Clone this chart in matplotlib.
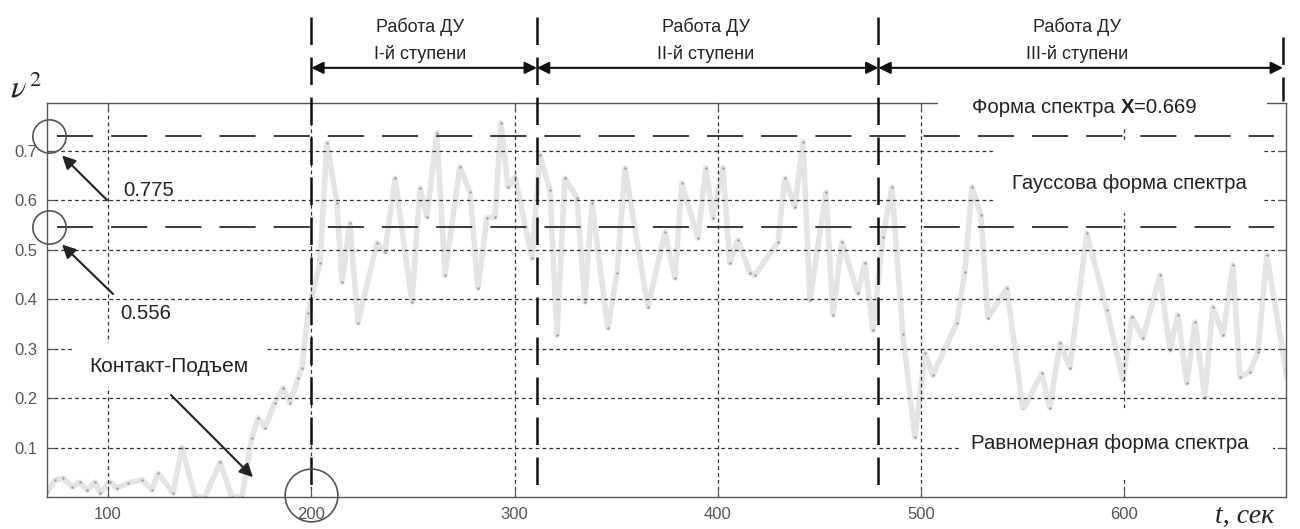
import matplotlib
matplotlib.use("Agg")
import matplotlib.pyplot as plt
from matplotlib.patches import Rectangle

plt.rcParams['font.family'] = ['Liberation Sans', 'DejaVu Sans']
plt.rcParams['mathtext.fontset'] = 'stix'

# время, сек
t = [70, 73.9, 77.9, 82.3, 86.2, 89.7, 93.6, 96.1, 101, 104.4, 109.8, 116.7,
     121.6, 124.6, 132, 136.4, 142.8, 147.7, 155.1, 161, 165.9, 170.8, 173.8,
     177.2, 182.1, 186.1, 189.5, 193.5, 195.4, 198.4, 204.3, 207.7, 212.6,
     215.1, 219.0, 223.0, 232.3, 236.3, 241.2, 249.5, 253.5, 256.9, 261.8,
     265.8, 273.1, 278.1, 282.0, 286.4, 290.4, 293.3, 296.8, 300.2, 308.6,
     312.5, 317.4, 320.9, 324.8, 330.7, 334.6, 338.1, 345.9, 350.4, 354.3,
     365.6, 374.0, 378.9, 382.3, 390.2, 394.1, 397.6, 402.5, 405.9, 409.9,
     415.8, 418.2, 429.6, 433.0, 437.9, 441.9, 445.3, 453.2, 456.6, 461.0,
     468.9, 472.4, 476.3, 481.2, 485.6, 491.0, 496.9, 501.9, 505.8, 517.6,
     521.5, 525.0, 529.4, 532.9, 542.2, 550.1, 559.4, 563.3, 568.3, 573.2,
     581.5, 591.4, 599.3, 603.7, 609.1, 617.5, 622.4, 626.3, 630.7, 634.7,
     639.6, 643.5, 648.5, 653.4, 656.8, 661.7, 665.7, 670.1, 680]
# v^2
v2 = [0.01, 0.034, 0.038, 0.02, 0.03, 0.014, 0.03, 0.008, 0.03, 0.018,
      0.028, 0.035, 0.014, 0.048, 0.008, 0.1, 0.0, 0.0, 0.07, 0.0, 0.0,
      0.12, 0.16, 0.14, 0.19, 0.22, 0.19, 0.24, 0.26, 0.372, 0.473, 0.715,
      0.594, 0.434, 0.553, 0.352, 0.513, 0.495, 0.644, 0.394, 0.624, 0.566,
      0.735, 0.448, 0.667, 0.616, 0.422, 0.564, 0.566, 0.756, 0.626, 0.646,
      0.483, 0.691, 0.62, 0.327, 0.644, 0.604, 0.394, 0.594, 0.341, 0.453,
      0.665, 0.384, 0.535, 0.442, 0.634, 0.523, 0.665, 0.564, 0.665, 0.473,
      0.519, 0.453, 0.448, 0.515, 0.644, 0.586, 0.717, 0.398, 0.616, 0.368,
      0.515, 0.412, 0.473, 0.337, 0.525, 0.626, 0.33, 0.121, 0.291, 0.246,
      0.352, 0.455, 0.626, 0.57, 0.362, 0.422, 0.176, 0.25, 0.18, 0.311,
      0.261, 0.533, 0.378, 0.236, 0.364, 0.321, 0.448, 0.297, 0.368, 0.23,
      0.354, 0.202, 0.384, 0.327, 0.469, 0.242, 0.253, 0.293, 0.489, 0.242]

x_ticks = [100, 200, 300, 400, 500, 600]
y_ticks = [0.1, 0.2, 0.3, 0.4, 0.5, 0.6, 0.7]
levels = [0.73, 0.545]          # пунктирные уровни
level_labels = ['0.775', '0.556']
stage_bounds = [200, 311, 479, 678]
stage_names = ['I-й ступени', 'II-й ступени', 'III-й ступени']
stage_text_x = [253.5, 394.2, 576.6]

fig = plt.figure(figsize=(13, 5.29), dpi=100)
ax = fig.add_axes([47/1300, 32/529, 1239/1300, 394/529])

ax.plot(t, v2, color='#e4e4e4', lw=4, zorder=2)
ax.plot(t, v2, ls='none', marker='.', ms=1.5, color='#999999', zorder=2.1)

ax.set_xlim(70, 679.5)
ax.set_ylim(0, 0.796)
ax.set_xticks(x_ticks)
ax.set_yticks(y_ticks)
ax.set_yticklabels([str(v) for v in y_ticks])
ax.tick_params(direction='in', length=6, width=0.8, colors='#555555',
               labelsize=12, top=True, right=True, pad=7)
for s in ax.spines.values():
    s.set_color('#555555')
    s.set_linewidth(1)
ax.set_axisbelow(False)
ax.grid(True, color='#333333', lw=0.9, ls=(0, (3, 2.5)))

# белые плашки под подписями
white = [(508.3, 0.745, 161.8, 0.061), (535.3, 0.574, 132.3, 0.147),
         (519.1, 0.040, 153.9, 0.136), (82.3, 0.222, 94.9, 0.089)]
for x0, y0, w, h in white:
    ax.add_patch(Rectangle((x0, y0), w, h, facecolor='white', edgecolor='none',
                           zorder=3, clip_on=False))

for y in levels:
    ax.axhline(y, xmin=0.008, xmax=0.99, color='#2a2a2a', lw=1.3,
               ls=(0, (20, 10)), zorder=4)

for i, xb in enumerate(stage_bounds):
    y0 = 0 if i < 3 else 0.8
    y1 = 0.97 if i < 3 else 0.93
    ax.plot([xb, xb], [y1, y0], color='#111111', lw=1.8, ls=(0, (11, 5)),
            clip_on=False, zorder=4)

for i in range(3):
    ax.annotate('', xy=(stage_bounds[i], 0.867), xytext=(stage_bounds[i + 1], 0.867),
                arrowprops=dict(arrowstyle='<|-|>', color='#111111', lw=1.5,
                                mutation_scale=18, shrinkA=0, shrinkB=0),
                annotation_clip=False, zorder=5)
    ax.text(stage_text_x[i], 0.95, 'Работа ДУ', ha='center', va='center',
            fontsize=13, color='#222222', clip_on=False)
    ax.text(stage_text_x[i], 0.895, stage_names[i], ha='center', va='center',
            fontsize=13, color='#222222', clip_on=False)

# кружки
ax.plot([71, 71], levels, ls='none', marker='o', ms=24, mfc='none',
        mec='#555555', mew=1.2, clip_on=False, zorder=5)
ax.plot([200], [0.005], ls='none', marker='o', ms=38, mfc='none',
        mec='#555555', mew=1.2, clip_on=False, zorder=5)

arrow = dict(arrowstyle='-|>', color='#222222', lw=1.5, mutation_scale=20,
             shrinkA=0, shrinkB=0)
ax.annotate('', xy=(77.4, 0.69), xytext=(99.5, 0.6), arrowprops=arrow, zorder=5)
ax.annotate('', xy=(77.4, 0.51), xytext=(102.5, 0.41), arrowprops=arrow, zorder=5)
ax.annotate('', xy=(171.3, 0.04), xytext=(131, 0.206), arrowprops=arrow, zorder=5)

fs = 14.7
ax.text(107.4, 0.62, level_labels[0], ha='left', va='center', fontsize=fs,
        color='#222222', zorder=6)
ax.text(105.9, 0.37, level_labels[1], ha='left', va='center', fontsize=fs,
        color='#222222', zorder=6)
ax.text(130, 0.263, 'Контакт-Подъем', ha='center', va='center', fontsize=15,
        color='#222222', zorder=6)

t1 = ax.text(525, 0.786, 'Форма спектра ', ha='left', va='center',
             fontsize=fs, color='#222222', zorder=6, clip_on=False)
t2 = ax.annotate('X', xy=(1, 0), xycoords=t1, va='bottom', fontsize=fs,
                 fontweight='bold', color='#222222', zorder=6)
ax.annotate('=0.669', xy=(1, 0), xycoords=t2, va='bottom', fontsize=fs,
            color='#222222', zorder=6)
ax.text(602.7, 0.634, 'Гауссова форма спектра', ha='center', va='center',
        fontsize=fs, color='#222222', zorder=6)
ax.text(592.9, 0.109, 'Равномерная форма спектра', ha='center', va='center',
        fontsize=fs, color='#222222', zorder=6)

fig.text(10/1300, 1 - 105/529, r'$\nu^{\,2}$', fontsize=23, ha='left',
         va='bottom', color='#222222')
fig.text(1215/1300, 1 - 523/529, 't, сек', family=['Liberation Serif'],
         style='italic', fontsize=20, ha='left', va='baseline', color='#222222')

fig.savefig('out.png', dpi=100)
